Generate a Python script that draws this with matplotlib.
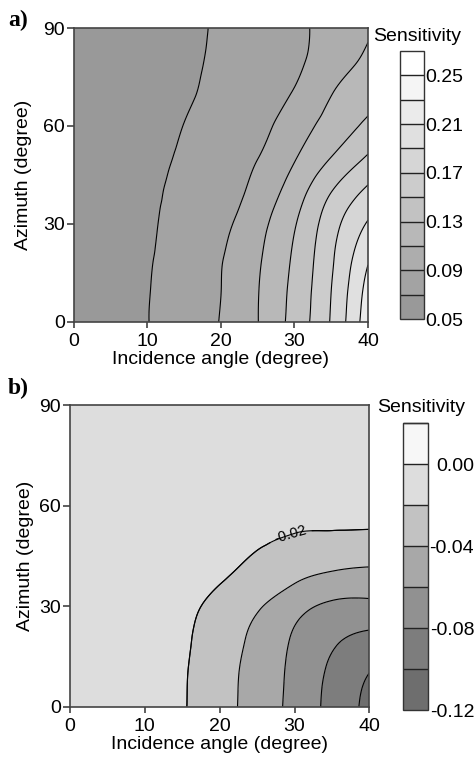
import numpy as np
import matplotlib
matplotlib.use('Agg')
import matplotlib.pyplot as plt
import matplotlib.tri as mtri

plt.rcParams['font.family'] = ['Liberation Sans', 'DejaVu Sans']
plt.rcParams['axes.unicode_minus'] = False
plt.rcParams['contour.negative_linestyle'] = 'solid'

# grid of the two maps
incidence = [0, 5, 10, 15, 20, 25, 30, 35, 40]
azimuth = [0, 10, 20, 30, 40, 50, 60, 70, 80, 90]

# a) sensitivity, rows = azimuth, columns = incidence angle
sens_a = [
    [0.058, 0.0630, 0.0696, 0.0799, 0.0908, 0.1096, 0.1373, 0.1718, 0.2220],
    [0.058, 0.0625, 0.0692, 0.0796, 0.0899, 0.1092, 0.1356, 0.1699, 0.2170],
    [0.058, 0.0620, 0.0683, 0.0787, 0.0890, 0.1073, 0.1330, 0.1669, 0.2070],
    [0.058, 0.0615, 0.0672, 0.0771, 0.0855, 0.1035, 0.1285, 0.1617, 0.1920],
    [0.058, 0.0610, 0.0660, 0.0750, 0.0810, 0.0965, 0.1198, 0.1495, 0.1740],
    [0.058, 0.0605, 0.0645, 0.0729, 0.0800, 0.0899, 0.1089, 0.1309, 0.1530],
    [0.058, 0.0600, 0.0635, 0.0703, 0.0770, 0.0845, 0.1002, 0.1177, 0.1340],
    [0.058, 0.0598, 0.0628, 0.0679, 0.0745, 0.0815, 0.0914, 0.1093, 0.1230],
    [0.058, 0.0595, 0.0622, 0.0670, 0.0728, 0.0790, 0.0865, 0.1000, 0.1135],
    [0.058, 0.0593, 0.0618, 0.0662, 0.0722, 0.0782, 0.0858, 0.0968, 0.1080],
]
levels_a = [0.05, 0.07, 0.09, 0.11, 0.13, 0.15, 0.17, 0.19, 0.21, 0.23, 0.25, 0.27]
ticks_a = [0.05, 0.09, 0.13, 0.17, 0.21, 0.25]

# b) sensitivity
sens_b = [
    [-0.003, -0.0050, -0.0100, -0.0185, -0.0328, -0.0481, -0.0661, -0.0859, -0.1050],
    [-0.003, -0.0050, -0.0098, -0.0182, -0.0322, -0.0475, -0.0650, -0.0836, -0.1001],
    [-0.003, -0.0048, -0.0092, -0.0170, -0.0303, -0.0449, -0.0625, -0.0770, -0.0855],
    [-0.003, -0.0047, -0.0085, -0.0150, -0.0254, -0.0378, -0.0525, -0.0635, -0.0650],
    [-0.003, -0.0045, -0.0075, -0.0120, -0.0174, -0.0257, -0.0343, -0.0409, -0.0435],
    [-0.003, -0.0040, -0.0060, -0.0090, -0.0130, -0.0175, -0.0220, -0.0235, -0.0245],
    [-0.003, -0.0035, -0.0045, -0.0060, -0.0080, -0.0100, -0.0110, -0.0120, -0.0120],
    [-0.003, -0.0033, -0.0040, -0.0050, -0.0060, -0.0070, -0.0080, -0.0085, -0.0090],
    [-0.003, -0.0032, -0.0038, -0.0045, -0.0052, -0.0060, -0.0065, -0.0068, -0.0070],
    [-0.003, -0.0032, -0.0036, -0.0042, -0.0047, -0.0052, -0.0056, -0.0058, -0.0060],
]
levels_b = [-0.12, -0.10, -0.08, -0.06, -0.04, -0.02, 0.00, 0.02]
ticks_b = [0.00, -0.04, -0.08, -0.12]
label_level_b = -0.02

xticks = [0, 10, 20, 30, 40]
yticks = [0, 30, 60, 90]

# band greys (dark -> light)
grays_a = [str(g) for g in np.linspace(0.60, 1.0, len(levels_a) - 1)]
grays_b = ['0.43', '0.49', '0.57', '0.66', '0.76', '0.865', '0.97']

fs = 14
fig = plt.figure(figsize=(4.77, 7.61), dpi=100)


def smooth_field(data):
    # refine the read grid with matplotlib's cubic tri-interpolator;
    # work in unit square coords so both axes weigh the same
    X, Y = np.meshgrid(incidence, azimuth)
    xs = X.ravel() / 40.0
    ys = Y.ravel() / 90.0
    z = np.array(data).ravel()
    tri = mtri.Triangulation(xs, ys)
    interp = mtri.CubicTriInterpolator(tri, z, kind='min_E')
    fine, fine_z = mtri.UniformTriRefiner(tri).refine_field(z, triinterpolator=interp, subdiv=4)
    fine_xy = mtri.Triangulation(fine.x * 40.0, fine.y * 90.0, fine.triangles)
    return fine_xy, fine_z


def draw_panel(ax_rect, cax_rect, data, levels, grays, ticks, ylabelpad):
    ax = fig.add_axes(ax_rect)
    cax = fig.add_axes(cax_rect)
    tri, z = smooth_field(data)
    cf = ax.tricontourf(tri, z, levels=levels, colors=grays)
    ax.tricontour(tri, z, levels=levels, colors='k', linewidths=0.8)
    ax.set_xlim(0, 40)
    ax.set_ylim(0, 90)
    ax.set_xticks(xticks)
    ax.set_yticks(yticks)
    ax.tick_params(axis='x', length=4.5, width=1.1, pad=3.5, labelsize=fs, color='#333333')
    ax.tick_params(axis='y', length=5, width=1.1, pad=1.5, labelsize=fs, color='#333333')
    for s in ax.spines.values():
        s.set_linewidth(1.2)
        s.set_color('#444444')
    ax.set_xlabel('Incidence angle (degree)', fontsize=fs, labelpad=1)
    ax.set_ylabel('Azimuth (degree)', fontsize=fs, labelpad=ylabelpad)

    cb = fig.colorbar(cf, cax=cax, drawedges=True, ticks=ticks, format='%.2f')
    cb.outline.set_linewidth(1.0)
    cb.outline.set_edgecolor('#333333')
    cb.dividers.set_color('#222222')
    cb.dividers.set_linewidth(1.0)
    cax.tick_params(length=0, labelsize=fs)
    return ax, cax, tri, z


ax_a, cax_a, _, _ = draw_panel([0.1551, 0.5769, 0.6164, 0.3863],
                               [0.8386, 0.5808, 0.0503, 0.3522],
                               sens_a, levels_a, grays_a, ticks_a, 8)
cax_a.tick_params(pad=1)

ax_b, cax_b, tri_b, z_b = draw_panel([0.1468, 0.0714, 0.6275, 0.3964],
                                     [0.8442, 0.0670, 0.0537, 0.3768],
                                     sens_b, levels_b, grays_b, ticks_b, 4)
cax_b.tick_params(pad=33)
for lab in cax_b.get_yticklabels():
    lab.set_horizontalalignment('right')

# label on the -0.02 line
cl_lab = ax_b.tricontour(tri_b, z_b, levels=[label_level_b], colors='k', linewidths=0.8)
ax_b.clabel(cl_lab, fmt='%.2f', fontsize=10.5, inline=True, manual=[(29.5, 51)])

fig.text(0.8742, 0.9514, 'Sensitivity', fontsize=fs, ha='center', va='center')
fig.text(0.8826, 0.4639, 'Sensitivity', fontsize=fs, ha='center', va='center')
fig.text(0.017, 0.9737, 'a)', fontsize=17, fontweight='bold',
         family=['Liberation Serif', 'DejaVu Serif'], ha='left', va='center')
fig.text(0.017, 0.4901, 'b)', fontsize=17, fontweight='bold',
         family=['Liberation Serif', 'DejaVu Serif'], ha='left', va='center')

fig.savefig('out.png', dpi=100)
